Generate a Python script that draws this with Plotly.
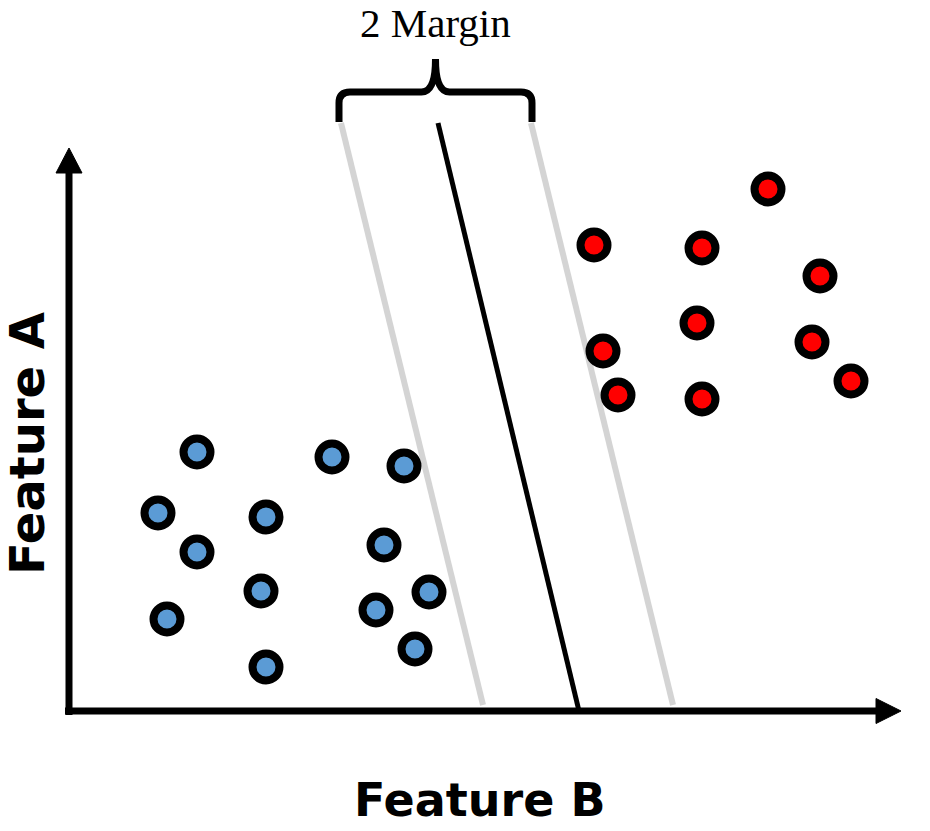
import plotly.graph_objects as go

# ---- data (Feature B = horizontal, Feature A = vertical), origin at axes corner ----
blue_B = [128, 263, 335, 89, 197, 128, 315, 192, 360, 307, 98, 346, 197]
blue_A = [259, 254, 245, 198, 194, 159, 166, 120, 119, 101, 92, 62, 44]

red_B = [699, 525, 633, 751, 628, 534, 743, 782, 549, 633]
red_A = [522, 466, 463, 435, 388, 360, 369, 330, 316, 312]

# separating hyperplane and margin lines (endpoints)
sep_B = [369, 510]
sep_A = [588, 0]
marg_left_B = [272, 414]
marg_left_A = [588, 6]
marg_right_B = [462, 604]
marg_right_A = [588, 6]

margin_label = "2 Margin"
x_label = "Feature B"
y_label = "Feature A"

# axis extents
x_axis_end = 807
y_axis_end = 538

fig = go.Figure()

fig.add_trace(go.Scatter(x=marg_left_B, y=marg_left_A, mode="lines",
                         line=dict(color="#d4d4d4", width=6), hoverinfo="skip"))
fig.add_trace(go.Scatter(x=marg_right_B, y=marg_right_A, mode="lines",
                         line=dict(color="#d4d4d4", width=6), hoverinfo="skip"))
fig.add_trace(go.Scatter(x=sep_B, y=sep_A, mode="lines",
                         line=dict(color="black", width=5), hoverinfo="skip"))

fig.add_trace(go.Scatter(x=blue_B, y=blue_A, mode="markers",
                         marker=dict(size=27, color="#5b9bd5",
                                     line=dict(color="black", width=8))))
fig.add_trace(go.Scatter(x=red_B, y=red_A, mode="markers",
                         marker=dict(size=27, color="#ff0000",
                                     line=dict(color="black", width=8))))

# axes with arrowheads
fig.add_shape(type="line", x0=0, y0=-4, x1=0, y1=y_axis_end,
              line=dict(color="black", width=7))
fig.add_shape(type="line", x0=-4, y0=0, x1=x_axis_end, y1=0,
              line=dict(color="black", width=7))
fig.add_shape(type="path",
              path=f"M -13,{y_axis_end} L 13,{y_axis_end} L 0,{y_axis_end + 25} Z",
              fillcolor="black", line=dict(color="black", width=1))
fig.add_shape(type="path",
              path=f"M {x_axis_end},-12.5 L {x_axis_end},12.5 L {x_axis_end + 25},0 Z",
              fillcolor="black", line=dict(color="black", width=1))

# brace above the margin
L = marg_left_B[0] - 2
R = marg_right_B[0] + 1
C = (L + R) / 2
y0 = marg_left_A[0] + 1
yh = y0 + 30
yt = yh + 33
brace = (f"M {L},{y0} L {L},{yh - 11} Q {L},{yh} {L + 11},{yh} "
         f"L {C - 14},{yh} Q {C},{yh} {C},{yt} "
         f"Q {C},{yh} {C + 14},{yh} L {R - 11},{yh} Q {R},{yh} {R},{yh - 11} L {R},{y0}")
fig.add_shape(type="path", path=brace, line=dict(color="black", width=7))

fig.add_annotation(x=C, y=688, text=margin_label, showarrow=False,
                   font=dict(family="Liberation Serif", size=41, color="black"))
fig.add_annotation(x=411, y=-89, text=f"<b>{x_label}</b>", showarrow=False,
                   font=dict(family="DejaVu Sans", size=46, color="black"))
fig.add_annotation(x=-42, y=267, text=f"<b>{y_label}</b>", showarrow=False,
                   textangle=-90,
                   font=dict(family="DejaVu Sans", size=48, color="black"))

fig.update_xaxes(range=[-69, 861], visible=False)
fig.update_yaxes(range=[-120, 711], visible=False)
fig.update_layout(width=930, height=831, autosize=False,
                  margin=dict(l=0, r=0, t=0, b=0, pad=0),
                  showlegend=False, plot_bgcolor="white", paper_bgcolor="white")

fig.write_html("out.html",
               config={"displayModeBar": False},
               post_script="document.body.style.margin='0px';"
                           "document.body.style.overflow='hidden';")
